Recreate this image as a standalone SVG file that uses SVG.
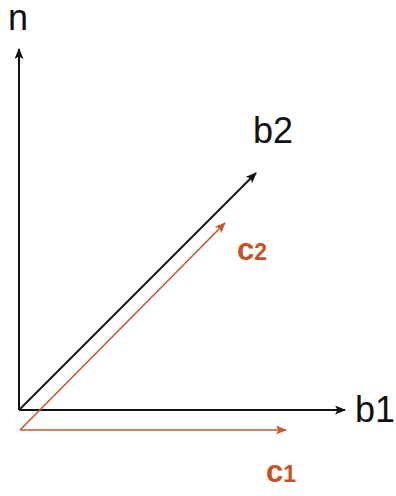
<svg xmlns="http://www.w3.org/2000/svg" width="396" height="496" viewBox="0 0 396 496">
<style>
.k{stroke:#111;stroke-width:2;fill:none}
.o{stroke:#c8582a;stroke-width:1.6;fill:none}
.t{font-family:"Liberation Sans",Arial,sans-serif;font-size:36px;fill:#111}
.to{font-family:"Liberation Sans",Arial,sans-serif;font-size:31px;font-weight:bold;fill:#c9501f}
.sub{font-size:23px}
</style>
<defs>
<marker id="ak" markerWidth="11" markerHeight="9" refX="10" refY="4.5" orient="auto" markerUnits="userSpaceOnUse"><path d="M0,0 L11,4.5 L0,9 L2.5,4.5 z" fill="#111"/></marker>
<marker id="ao" markerWidth="11" markerHeight="9" refX="10" refY="4.5" orient="auto" markerUnits="userSpaceOnUse"><path d="M0,0 L11,4.5 L0,9 L2.5,4.5 z" fill="#c8582a"/></marker>
</defs>
<rect width="396" height="496" fill="#fff"/>
<g id="connectors">
<line class="k" x1="19" y1="410" x2="19" y2="49" marker-end="url(#ak)"/>
<line class="k" x1="19" y1="410" x2="345" y2="410" marker-end="url(#ak)"/>
<line class="k" x1="19" y1="410" x2="256" y2="173" marker-end="url(#ak)"/>
<line class="o" x1="20" y1="430" x2="225" y2="223" marker-end="url(#ao)"/>
<line class="o" x1="20" y1="430" x2="286" y2="430" marker-end="url(#ao)"/>
</g>
<g id="n"><text class="t" x="8" y="30" font-size="30">n</text></g>
<g id="b1"><text class="t" x="355" y="422">b1</text></g>
<g id="b2"><text class="t" x="253" y="143">b2</text></g>
<g id="c1"><text class="to" x="266" y="482">c<tspan class="sub">1</tspan></text></g>
<g id="c2"><text class="to" x="237" y="260">c<tspan class="sub">2</tspan></text></g>
</svg>
